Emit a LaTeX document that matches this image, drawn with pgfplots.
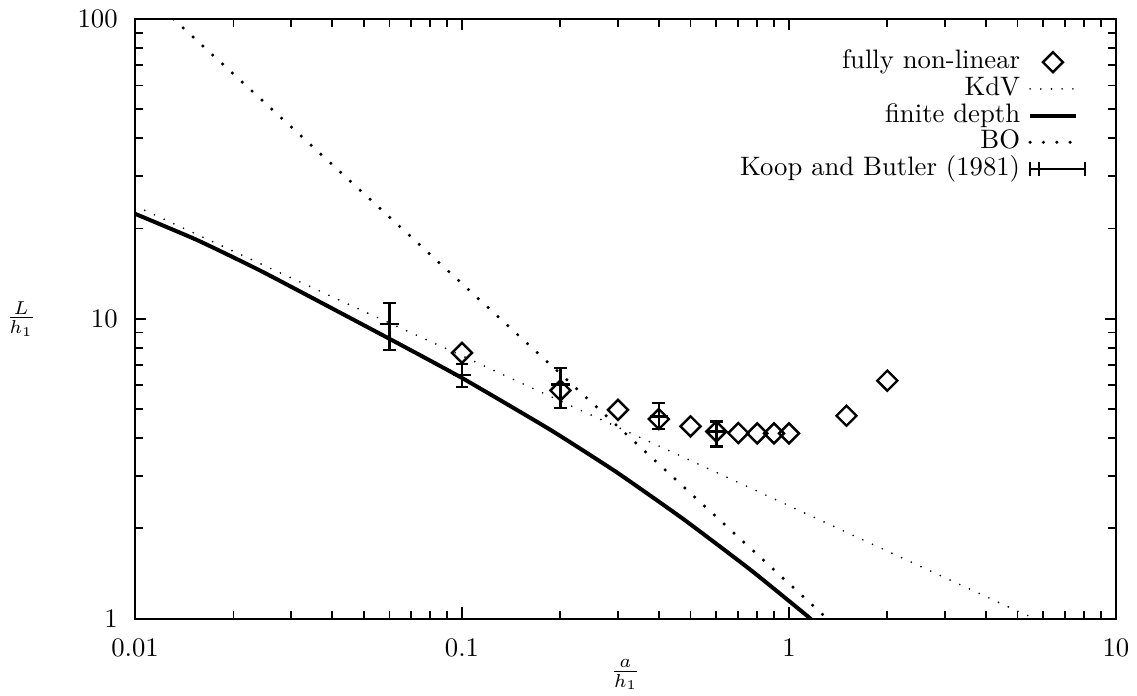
\documentclass[border=0pt]{standalone}
\usepackage{pgfplots}
\pgfplotsset{compat=1.18}

\begin{document}
\begin{tikzpicture}
\begin{axis}[
  xmode=log, ymode=log,
  scale only axis, width=367.5pt, height=224.7pt,
  xmin=0.01, xmax=10, ymin=1, ymax=100,
  xtick={0.01,0.1,1,10}, xticklabels={0.01,0.1,1,10},
  ytick={1,10,100}, yticklabels={1,10,100},
  xticklabel style={yshift=-4pt},
  yticklabel style={xshift=-3pt},
  axis line style={line width=0.8pt},
  every tick/.style={line width=0.7pt,black},
  every axis x label/.style={at={(rel axis cs:0.5,0)},anchor=center,yshift=-21pt},
  every axis y label/.style={at={(rel axis cs:0,0.5)},anchor=center,xshift=-42.7pt},
  xlabel={$\frac{a}{h_1}$}, ylabel={$\frac{L}{h_1}$},
  legend plot pos=right,
  legend cell align=right,
  legend style={at={(rel axis cs:1,1)}, anchor=north east, xshift=-8pt, yshift=-9pt,
    draw=none, fill=none, row sep=0pt,
    nodes={text height=7pt, text depth=2pt, inner ysep=0.5pt, inner xsep=3pt}},
]
% fully non-linear
\addplot[only marks, mark=square, mark size=2.65pt,
  mark options={rotate=45, line width=0.9pt}] coordinates {
  (0.1,7.7) (0.2,5.77) (0.3,4.97) (0.4,4.63) (0.5,4.38) (0.6,4.21)
  (0.7,4.16) (0.8,4.15) (0.9,4.15) (1.0,4.15) (1.5,4.75) (2.0,6.22)};
\addlegendentry{fully non-linear}
% KdV
\addplot[line width=0.7pt, line cap=round, dash pattern=on 0pt off 4pt] coordinates {
  (0.01,23.8) (0.02,16.8) (0.05,10.6) (0.1,7.53) (0.2,5.32) (0.5,3.37)
  (1,2.38) (2,1.68) (5,1.06) (5.66,1.0)};
\addlegendentry{KdV}
% finite depth
\addplot[line width=1.5pt, smooth, tension=0.3] coordinates {
  (0.01,22.4) (0.0155,18.3) (0.0247,14.3) (0.0595,8.62) (0.1,6.35)
  (0.186,4.27) (0.297,3.08) (0.475,2.15) (0.76,1.46) (1.08,1.07) (1.17,0.995)};
\addlegendentry{finite depth}
% BO
\addplot[line width=1.3pt, line cap=round, dash pattern=on 0pt off 5pt] coordinates {
  (0.0131,100) (0.03,43.7) (0.1,13.1) (0.3,4.37) (1,1.31) (1.31,1.0)};
\addlegendentry{BO}
% Koop and Butler (1981)
\addplot[only marks, mark=+, mark size=3.5pt, mark options={line width=0.9pt},
  error bars/.cd, y dir=both, y explicit,
  error mark=-, error mark options={rotate=90, mark size=2.4pt, line width=0.9pt},
  error bar style={line width=0.9pt},
  /pgfplots/legend image code/.code={
    \draw[line width=0.9pt] (0cm,-2.5pt)--(0cm,2.5pt) (0cm,0cm)--(0.72cm,0cm)
      (0.72cm,-2.5pt)--(0.72cm,2.5pt) (0.12cm,-2.5pt)--(0.12cm,2.5pt);}
  ] coordinates {
  (0.06,9.6) +=(0,1.7) -=(0,1.72)
  (0.1,6.51) +=(0,0.57) -=(0,0.59)
  (0.2,6.03) +=(0,0.82) -=(0,0.99)
  (0.4,4.73) +=(0,0.51) -=(0,0.44)
  (0.6,4.21) +=(0,0.33) -=(0,0.46)};
\addlegendentry{Koop and Butler (1981)}
\end{axis}
\pgfresetboundingbox
\path ([shift={(-50.6pt,-28.8pt)}]current axis.south west) rectangle
  ([shift={(7.9pt,7.1pt)}]current axis.north east);
\end{tikzpicture}
\end{document}
